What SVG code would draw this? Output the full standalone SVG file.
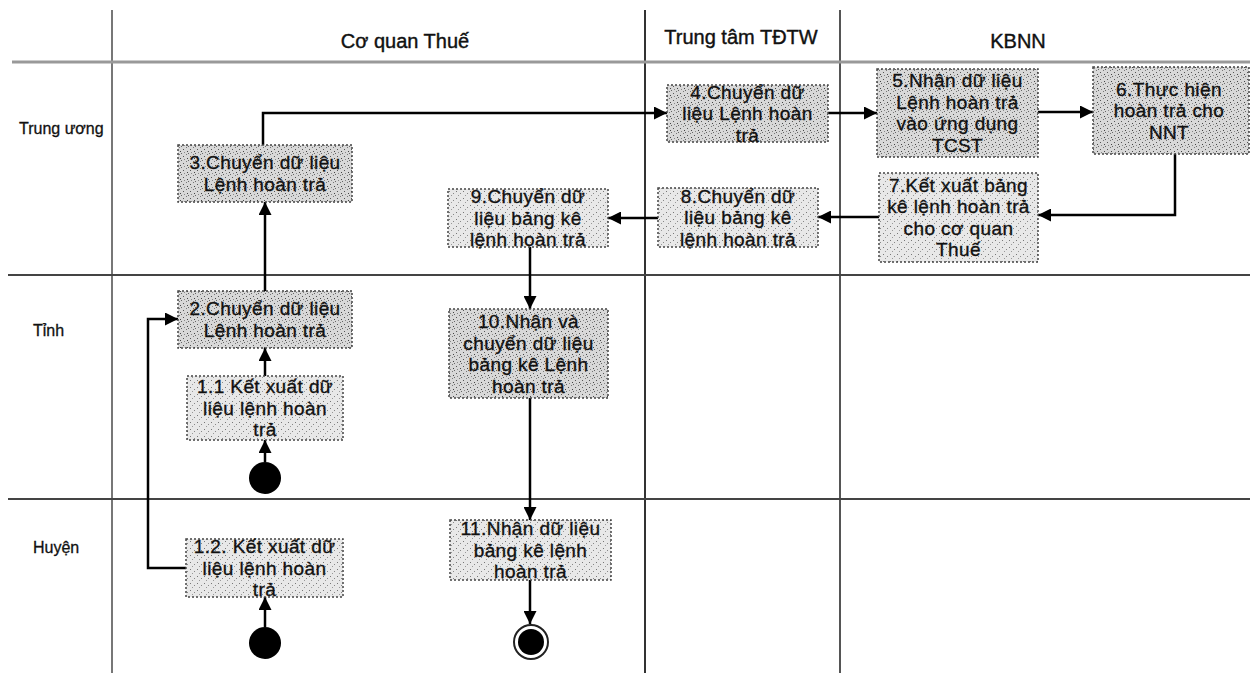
<svg xmlns="http://www.w3.org/2000/svg" width="1250" height="673" viewBox="0 0 1250 673">
<style>
  .lane { stroke: #444; stroke-width: 2; fill: none; }
  .hdr { font-family: "Liberation Sans", Arial, sans-serif; font-size: 20px; fill: #111; stroke: #111; stroke-width: 0.4; text-anchor: middle; }
  .row { font-family: "Liberation Sans", Arial, sans-serif; font-size: 16px; fill: #111; stroke: #111; stroke-width: 0.3; }
  .box { stroke: #444; stroke-width: 1.5; stroke-dasharray: 2 2; }
  .dark { fill: url(#speck); }
  .light { fill: url(#speckLight); }
  .lbl { font-family: "Liberation Sans", Arial, sans-serif; font-size: 19px; fill: #111; stroke: #111; stroke-width: 0.35; text-anchor: middle; letter-spacing: 0.4px; }
  .conn { stroke: #000; stroke-width: 2.5; fill: none; marker-end: url(#arrow); }
</style>
<defs>
  <marker id="arrow" viewBox="0 0 10 10" refX="10" refY="5" markerWidth="5.2" markerHeight="5.2" orient="auto" markerUnits="strokeWidth">
    <path d="M0,0 L10,5 L0,10 Z" fill="#000"/>
  </marker>
  <pattern id="speck" width="7" height="7" patternUnits="userSpaceOnUse">
    <rect width="7" height="7" fill="#d8d8d8"/>
    <rect x="1" y="2" width="1" height="1" fill="#555"/>
    <rect x="4" y="0" width="1" height="1" fill="#777"/>
    <rect x="5" y="4" width="1" height="1" fill="#444"/>
    <rect x="2" y="5" width="1" height="1" fill="#888"/>
    <rect x="6" y="6" width="1" height="1" fill="#666"/>
  </pattern>
  <pattern id="speckLight" width="7" height="7" patternUnits="userSpaceOnUse">
    <rect width="7" height="7" fill="#e8e8e8"/>
    <rect x="1" y="2" width="1" height="1" fill="#777"/>
    <rect x="5" y="4" width="1" height="1" fill="#888"/>
    <rect x="3" y="6" width="1" height="1" fill="#999"/>
  </pattern>
</defs>
<rect width="1250" height="673" fill="#fff"/>

<g id="swimlanes">
  <line x1="112" y1="10" x2="112" y2="673" stroke="#777" stroke-width="2"/>
  <line x1="645" y1="10" x2="645" y2="673" stroke="#333" stroke-width="2"/>
  <line x1="840" y1="10" x2="840" y2="673" stroke="#555" stroke-width="2"/>
  <line x1="12" y1="62" x2="1250" y2="62" stroke="#999" stroke-width="3"/>
  <line x1="8" y1="275" x2="1250" y2="275" class="lane"/>
  <line x1="8" y1="499" x2="1250" y2="499" class="lane"/>
  <text class="hdr" x="405" y="48">Cơ quan Thuế</text>
  <text class="hdr" x="741" y="44">Trung tâm TĐTW</text>
  <text class="hdr" x="1018" y="48">KBNN</text>
  <text class="row" x="19" y="134">Trung ương</text>
  <text class="row" x="33" y="336">Tỉnh</text>
  <text class="row" x="33" y="553">Huyện</text>
</g>

<g id="connectors">
  <path class="conn" d="M265 462 V440"/>
  <path class="conn" d="M265 376 V348"/>
  <path class="conn" d="M265 627 V597"/>
  <path class="conn" d="M186 568 H148 V319 H178"/>
  <path class="conn" d="M265 291 V202"/>
  <path class="conn" d="M263 145 V113 H667"/>
  <path class="conn" d="M828 113 H877"/>
  <path class="conn" d="M1038 112 H1093"/>
  <path class="conn" d="M1175 154 V215 H1038"/>
  <path class="conn" d="M879 217 H818"/>
  <path class="conn" d="M658 218 H608"/>
  <path class="conn" d="M530 247 V309"/>
  <path class="conn" d="M530 398 V520"/>
  <path class="conn" d="M530 580 V624"/>
</g>

<g id="start1"><circle cx="265" cy="478" r="16" fill="#000"/></g>
<g id="start2"><circle cx="265" cy="643" r="16" fill="#000"/></g>
<g id="end"><circle cx="531" cy="642" r="17" fill="#fff" stroke="#222" stroke-width="2"/><circle cx="531" cy="642" r="13" fill="#000"/></g>

<g id="n3">
  <rect class="box dark" x="178" y="145" width="174" height="57"/>
  <text class="lbl" x="265" y="169">3.Chuyển dữ liệu</text>
  <text class="lbl" x="265" y="191">Lệnh hoàn trả</text>
</g>
<g id="n2">
  <rect class="box dark" x="178" y="291" width="174" height="57"/>
  <text class="lbl" x="265" y="315">2.Chuyển dữ liệu</text>
  <text class="lbl" x="265" y="337">Lệnh hoàn trả</text>
</g>
<g id="n1-1">
  <rect class="box light" x="187" y="376" width="156" height="64"/>
  <text class="lbl" x="265" y="393">1.1 Kết xuất dữ</text>
  <text class="lbl" x="265" y="414.5">liệu lệnh hoàn</text>
  <text class="lbl" x="265" y="436">trả</text>
</g>
<g id="n1-2">
  <rect class="box light" x="186" y="539" width="157" height="58"/>
  <text class="lbl" x="264.5" y="553">1.2. Kết xuất dữ</text>
  <text class="lbl" x="264.5" y="574.5">liệu lệnh hoàn</text>
  <text class="lbl" x="264.5" y="596">trả</text>
</g>
<g id="n9">
  <rect class="box light" x="448" y="189" width="160" height="58"/>
  <text class="lbl" x="528" y="203">9.Chuyển dữ</text>
  <text class="lbl" x="528" y="224.5">liệu bảng kê</text>
  <text class="lbl" x="528" y="246">lệnh hoàn trả</text>
</g>
<g id="n10">
  <rect class="box dark" x="449" y="309" width="159" height="89"/>
  <text class="lbl" x="528.5" y="328">10.Nhận và</text>
  <text class="lbl" x="528.5" y="349.5">chuyển dữ liệu</text>
  <text class="lbl" x="528.5" y="371">bảng kê Lệnh</text>
  <text class="lbl" x="528.5" y="392.5">hoàn trả</text>
</g>
<g id="n11">
  <rect class="box light" x="450" y="520" width="161" height="60"/>
  <text class="lbl" x="530.5" y="535">11.Nhận dữ liệu</text>
  <text class="lbl" x="530.5" y="556.5">bảng kê lệnh</text>
  <text class="lbl" x="530.5" y="578">hoàn trả</text>
</g>
<g id="n4">
  <rect class="box dark" x="667" y="85" width="161" height="57"/>
  <text class="lbl" x="747.5" y="98.5">4.Chuyển dữ</text>
  <text class="lbl" x="747.5" y="120">liệu Lệnh hoàn</text>
  <text class="lbl" x="747.5" y="141.5">trả</text>
</g>
<g id="n8">
  <rect class="box light" x="658" y="188" width="160" height="59"/>
  <text class="lbl" x="738" y="202.5">8.Chuyển dữ</text>
  <text class="lbl" x="738" y="224">liệu bảng kê</text>
  <text class="lbl" x="738" y="245.5">lệnh hoàn trả</text>
</g>
<g id="n5">
  <rect class="box dark" x="877" y="69" width="161" height="88"/>
  <text class="lbl" x="957.5" y="87">5.Nhận dữ liệu</text>
  <text class="lbl" x="957.5" y="108.5">Lệnh hoàn trả</text>
  <text class="lbl" x="957.5" y="130">vào ứng dụng</text>
  <text class="lbl" x="957.5" y="151.5">TCST</text>
</g>
<g id="n6">
  <rect class="box dark" x="1093" y="67" width="156" height="87"/>
  <text class="lbl" x="1169" y="95.5">6.Thực hiện</text>
  <text class="lbl" x="1169" y="117">hoàn trả cho</text>
  <text class="lbl" x="1169" y="138.5">NNT</text>
</g>
<g id="n7">
  <rect class="box light" x="879" y="173" width="159" height="89"/>
  <text class="lbl" x="958.5" y="191.5">7.Kết xuất bảng</text>
  <text class="lbl" x="958.5" y="213">kê lệnh hoàn trả</text>
  <text class="lbl" x="958.5" y="234.5">cho cơ quan</text>
  <text class="lbl" x="958.5" y="256">Thuế</text>
</g>
</svg>
